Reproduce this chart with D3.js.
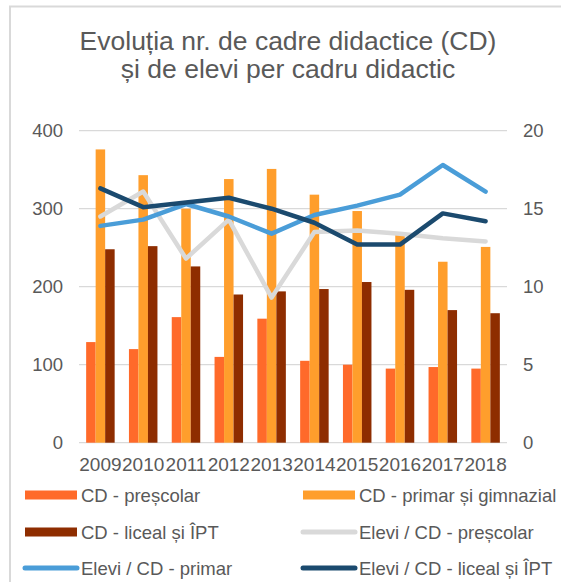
<!DOCTYPE html>
<html>
<head>
<meta charset="utf-8">
<script src="https://cdn.jsdelivr.net/npm/d3@7"></script>
<style>
  body { margin: 0; background: #fff; }
  text { font-family: "Liberation Sans", Arial, sans-serif; fill: #595959; }
</style>
</head>
<body>
<svg width="561" height="582"></svg>
<script>
var svg = d3.select("svg");

// data
var years = ["2009","2010","2011","2012","2013","2014","2015","2016","2017","2018"];
var cdPrescolar = [129, 120, 161, 110, 159, 105, 100, 95, 97, 95];
var cdPrimar = [376, 343, 300, 338, 351, 318, 297, 268, 232, 251];
var cdLiceal = [248, 252, 226, 190, 194, 197, 206, 196, 170, 166];
var elevPrescolar = [14.5, 16.1, 11.8, 14.3, 9.3, 13.5, 13.6, 13.4, 13.1, 12.9];
var elevPrimar = [13.9, 14.3, 15.3, 14.5, 13.4, 14.6, 15.2, 15.9, 17.8, 16.1];
var elevLiceal = [16.3, 15.1, 15.4, 15.7, 15.0, 14.1, 12.7, 12.7, 14.7, 14.2];
var leftTicks = [0, 100, 200, 300, 400];
var rightTicks = [0, 5, 10, 15, 20];

var barSeries = [
  { name: "CD - preșcolar", values: cdPrescolar, color: "#FF6A2A" },
  { name: "CD - primar și gimnazial", values: cdPrimar, color: "#FF9E2C" },
  { name: "CD - liceal și ÎPT", values: cdLiceal, color: "#8E2D00" }
];
var lineSeries = [
  { name: "Elevi / CD - preșcolar", values: elevPrescolar, color: "#D9D9D9" },
  { name: "Elevi / CD - primar", values: elevPrimar, color: "#4A9DD8" },
  { name: "Elevi / CD - liceal și ÎPT", values: elevLiceal, color: "#1B4A6E" }
];

// chart border
svg.append("path")
   .attr("d", "M10,582 V6.5 H561")
   .attr("fill", "none")
   .attr("stroke", "#D9D9D9")
   .attr("stroke-width", 2);

// title
var title = svg.append("text")
   .attr("text-anchor", "middle")
   .attr("font-size", 26.5);
title.append("tspan").attr("x", 288).attr("y", 50).text("Evoluția nr. de cadre didactice (CD)");
title.append("tspan").attr("x", 288).attr("y", 78).text("și de elevi per cadru didactic");

var plotLeft = 79, plotRight = 507, plotTop = 130.7, plotBottom = 442.7;

var x = d3.scaleBand().domain(years).range([plotLeft, plotRight]);
var xInner = d3.scaleBand()
   .domain(d3.range(barSeries.length))
   .range([x.bandwidth() * 0.167, x.bandwidth() * 0.833]);
var yLeft = d3.scaleLinear().domain([0, 400]).range([plotBottom, plotTop]);
var yRight = d3.scaleLinear().domain([0, 20]).range([plotBottom, plotTop]);

// gridlines
svg.append("g").selectAll("line")
   .data(leftTicks)
   .join("line")
   .attr("x1", plotLeft).attr("x2", plotRight)
   .attr("y1", function(d) { return yLeft(d); })
   .attr("y2", function(d) { return yLeft(d); })
   .attr("stroke", "#D9D9D9")
   .attr("stroke-width", 1.3);

// left axis labels
svg.append("g").selectAll("text")
   .data(leftTicks)
   .join("text")
   .attr("x", 63)
   .attr("y", function(d) { return yLeft(d) + 6.5; })
   .attr("text-anchor", "end")
   .attr("font-size", 18.5)
   .text(function(d) { return d; });

// right axis labels
svg.append("g").selectAll("text")
   .data(rightTicks)
   .join("text")
   .attr("x", 523)
   .attr("y", function(d) { return yRight(d) + 6.5; })
   .attr("font-size", 18.5)
   .text(function(d) { return d; });

// year labels
svg.append("g").selectAll("text")
   .data(years)
   .join("text")
   .attr("x", function(d) { return x(d) + x.bandwidth() / 2; })
   .attr("y", 471)
   .attr("text-anchor", "middle")
   .attr("font-size", 19)
   .text(function(d) { return d; });

// bars
barSeries.forEach(function(s, si) {
  svg.append("g").selectAll("rect")
     .data(s.values)
     .join("rect")
     .attr("x", function(d, i) { return x(years[i]) + xInner(si); })
     .attr("y", function(d) { return yLeft(d); })
     .attr("width", xInner.bandwidth())
     .attr("height", function(d) { return yLeft(0) - yLeft(d); })
     .attr("fill", s.color);
});

// lines
var line = d3.line()
   .x(function(d, i) { return x(years[i]) + x.bandwidth() / 2; })
   .y(function(d) { return yRight(d); });

lineSeries.forEach(function(s) {
  svg.append("path")
     .datum(s.values)
     .attr("d", line)
     .attr("fill", "none")
     .attr("stroke", s.color)
     .attr("stroke-width", 4.5)
     .attr("stroke-linejoin", "round")
     .attr("stroke-linecap", "round");
});

// legend
var legendItems = [
  { s: barSeries[0], type: "bar" }, { s: barSeries[1], type: "bar" },
  { s: barSeries[2], type: "bar" }, { s: lineSeries[0], type: "line" },
  { s: lineSeries[1], type: "line" }, { s: lineSeries[2], type: "line" }
];
var legendRows = [495, 532, 568];
var legendCols = [25, 303];

legendItems.forEach(function(item, k) {
  var lx = legendCols[k % 2];
  var ly = legendRows[Math.floor(k / 2)];
  if (item.type == "bar") {
    svg.append("rect")
       .attr("x", lx).attr("y", ly - 4.5)
       .attr("width", 52).attr("height", 9)
       .attr("fill", item.s.color);
  }
  else {
    svg.append("line")
       .attr("x1", lx).attr("x2", lx + 52)
       .attr("y1", ly).attr("y2", ly)
       .attr("stroke", item.s.color)
       .attr("stroke-width", 5)
       .attr("stroke-linecap", "round");
  }
  svg.append("text")
     .attr("x", lx + 56)
     .attr("y", ly + 6.5)
     .attr("font-size", 18.5)
     .text(item.s.name);
});
</script>
</body>
</html>
